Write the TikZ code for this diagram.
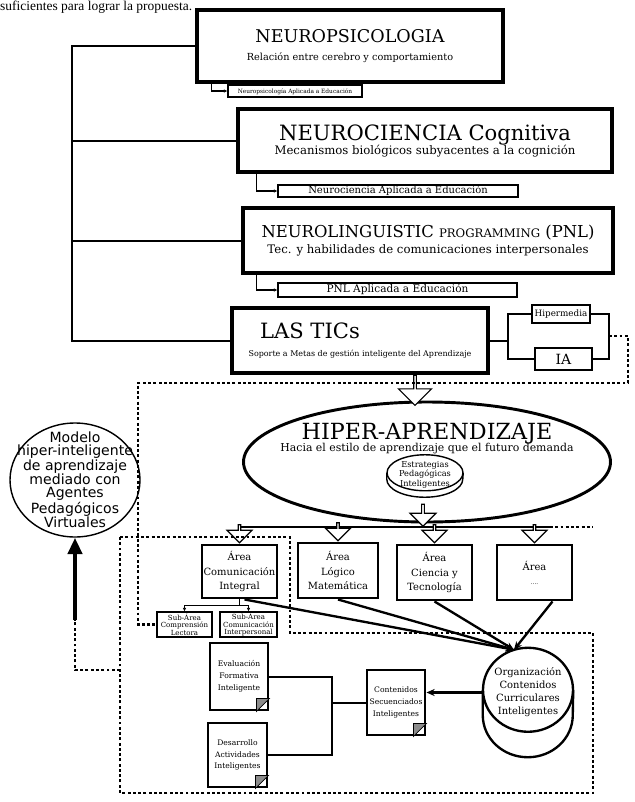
\documentclass[tikz,border=0pt]{standalone}
\usepackage{fontspec}
\setmainfont{DejaVu Serif}
\newfontfamily\bodyfont{Liberation Serif}
\newfontfamily\modelfont{DejaVu Sans}
\usetikzlibrary{arrows.meta, positioning, shapes.geometric, shapes.arrows, calc}

\newcommand{\pxu}{0.03cm}
\newcommand{\fsz}[2]{\fontsize{#1}{#2}\selectfont}

\begin{document}
\begin{tikzpicture}[
        x=0.03cm, y=-0.03cm,
        bigbox/.style={draw, line width=3pt, align=center, inner sep=1pt},
        subbox/.style={draw, line width=1pt, inner sep=0.5pt, text height=6.5pt, text depth=1.5pt},
        areabox/.style={draw, line width=2.5pt, align=center, inner sep=1pt, font=\fsz{8.5}{12}},
        smallbox/.style={draw, line width=1pt, align=center, inner sep=0.5pt, font=\fsz{6}{6.5}},
        docbox/.style={draw, line width=2.5pt, align=center, inner sep=1pt, font=\fsz{6.5}{10}},
        link/.style={line width=1.7pt},
        sublink/.style={line width=1.2pt, -{Latex[length=3pt,width=3pt]}},
        thinlink/.style={line width=0.8pt},
        feed/.style={line width=2pt, -{Stealth[length=7pt,width=6pt]}},
        dotline/.style={line width=2pt, dash pattern=on 2.5pt off 2pt},
        hollow/.style={single arrow, draw, fill=white, line width=1pt, rotate=-90, inner sep=0pt},
        fold/.style={fill=black!45, draw, line width=0.6pt}
    ]
    \useasboundingbox (0,0) rectangle (634,802);

    \node[anchor=base west, inner sep=0pt, font=\bodyfont\fsz{11.5}{13}] (intro) at (0,10) {suficientes para lograr la propuesta.};

    % bases teoricas
    \node[bigbox, minimum width=306*\pxu, minimum height=72*\pxu] (neuropsi) at (350,46)
        {{\fsz{15}{17}NEUROPSICOLOGIA}\\[4pt]{\fsz{8.3}{10}Relación entre cerebro y comportamiento}};
    \node[bigbox, minimum width=374*\pxu, minimum height=63*\pxu] (neurocog) at (425,140.5)
        {{\fsz{18}{20}NEUROCIENCIA Cognitiva}\\{\fsz{10}{12}Mecanismos biológicos subyacentes a la cognición}};
    \node[bigbox, minimum width=370*\pxu, minimum height=65*\pxu] (pnl) at (428,240.5)
        {{\fsz{14}{16}NEUROLINGUISTIC {\fsz{10}{12}PROGRAMMING} (PNL)}\\[2pt]{\fsz{10}{12}Tec. y habilidades de comunicaciones interpersonales}};
    \node[bigbox, minimum width=256*\pxu, minimum height=65*\pxu] (tics) at (360,340.5)
        {{\fsz{18}{20}LAS TICs\hspace*{3cm}}\\[4pt]{\fsz{6.8}{8}Soporte a Metas de gestión inteligente del Aprendizaje}};

    \node[subbox, minimum width=134*\pxu, minimum height=12*\pxu, font=\fsz{5}{6}] (sb1) at (295,91) {Neuropsicología Aplicada a Educación};
    \node[subbox, minimum width=240*\pxu, minimum height=12*\pxu, font=\fsz{8.5}{9}] (sb2) at (398,191) {Neurociencia Aplicada a Educación};
    \node[subbox, minimum width=239*\pxu, minimum height=14*\pxu, font=\fsz{9}{10}] (sb3) at (397.5,290) {PNL Aplicada a Educación};

    \node[draw, line width=2.5pt, minimum width=58*\pxu, minimum height=18*\pxu, inner sep=0pt, font=\fsz{7.5}{8}] (hipermedia) at (561,314) {Hipermedia};
    \node[draw, line width=2.5pt, minimum width=57*\pxu, minimum height=22*\pxu, inner sep=0pt, font=\fsz{12}{13}] (ia) at (563.5,359) {IA};

    % bus de la izquierda
    \coordinate (busTop) at (72,46);
    \coordinate (busBot) at (72,340.5);
    \draw[link] (neuropsi.west) -- (busTop) -- (busBot) -- (tics.west);
    \draw[link] (neurocog.west) -- (neurocog.west -| busTop);
    \draw[link] (pnl.west) -- (pnl.west -| busTop);

    \draw[sublink] ($(neuropsi.south west)+(16,0)$) |- (sb1.west);
    \draw[sublink] ($(neurocog.south west)+(20,0)$) |- (sb2.west);
    \draw[sublink] ($(pnl.south west)+(15,0)$) |- (sb3.west);

    \coordinate (forkL) at (508,340.5);
    \coordinate (forkR) at (609,336);
    \draw[link] (tics.east) -- (forkL);
    \draw[link] (hipermedia.west) -| (forkL) |- (ia.west);
    \draw[link] (hipermedia.east) -| (forkR) |- (ia.east);

    % hiper-aprendizaje
    \node[ellipse, draw, line width=2.5pt, minimum width=367*\pxu, minimum height=120*\pxu] (hiper) at (427,462) {};
    \node[anchor=base, inner sep=0pt, font=\fsz{19}{20}] (hipertitle) at (427,439) {HIPER-APRENDIZAJE};
    \node[anchor=base, inner sep=0pt, font=\fsz{9.3}{10}] (hipersub) at (427,451) {Hacia el estilo de aprendizaje que el futuro demanda};
    \node[minimum width=76*\pxu, minimum height=42*\pxu, inner sep=0pt,
        label={[font=\fsz{7}{8}, align=center, yshift=1pt]center:Estrategias\\Pedagógicas\\Inteligentes}] (estrat) at (425,476) {};
    \draw[line width=1.2pt] ($(estrat.north)+(0,18)$) ellipse [x radius=38, y radius=18];
    \draw[line width=1.2pt] ($(estrat.north west)+(0,18)$) -- ($(estrat.south west)+(0,-18)$)
        arc[start angle=180, end angle=0, x radius=38, y radius=18] -- ($(estrat.north east)+(0,18)$);

    \node[hollow, anchor=tail, minimum height=30*\pxu, minimum width=33*\pxu, single arrow head extend=0.2cm] (harrtop) at ($(tics.south)+(55,0)$) {};

    % areas
    \node[areabox, minimum width=75*\pxu, minimum height=53*\pxu] (acom) at (239.5,571.5) {Área\\Comunicación\\Integral};
    \node[areabox, minimum width=80*\pxu, minimum height=55*\pxu] (alog) at (338,570.5) {Área\\Lógico\\Matemática};
    \node[areabox, minimum width=75*\pxu, minimum height=55*\pxu] (acie) at (434.5,572.5) {Área\\Ciencia y\\Tecnología};
    \node[areabox, minimum width=75*\pxu, minimum height=55*\pxu] (aotra) at (534.5,572.5) {Área\\{\fsz{5}{6}....}};

    \coordinate (barL) at (239.5,527);
    \coordinate (barC) at (423,527);
    \coordinate (barR) at (550,527);
    \draw[line width=2.5pt] (barL) -- (barR);
    \node[hollow, anchor=tip, minimum height=22*\pxu, minimum width=26*\pxu, single arrow head extend=0.15cm] (harrmid) at (barC) {};
    \foreach \a in {acom, alog, acie, aotra}
        \node[hollow, anchor=tip, minimum height=18*\pxu, minimum width=25*\pxu, single arrow head extend=0.15cm] at (\a.north) {};

    \node[smallbox, minimum width=55*\pxu, minimum height=25*\pxu] (scomp) at (184.5,624.5) {Sub-Área\\Comprensión\\Lectora};
    \node[smallbox, minimum width=57*\pxu, minimum height=25*\pxu] (sinter) at (248.5,624.5) {Sub-Área\\Comunicación\\Interpersonal};
    \draw[thinlink] (acom.south) -- ++(0,6) coordinate (sabar);
    \draw[thinlink, -{Latex[length=3pt,width=3pt]}] (sabar) -| (scomp.north);
    \draw[thinlink, -{Latex[length=3pt,width=3pt]}] (sabar) -| (sinter.north);

    % contenidos
    \node[minimum width=90*\pxu, minimum height=109*\pxu, inner sep=0pt,
        label={[font=\fsz{8.5}{11}, align=center, yshift=9pt]center:Organización\\Contenidos\\Curriculares\\Inteligentes}] (org) at (528,702.5) {};
    \draw[line width=2pt] ($(org.north)+(0,42)$) ellipse [x radius=45, y radius=42];
    \draw[line width=2pt] ($(org.north west)+(0,42)$) -- ($(org.south west)+(0,-42)$)
        arc[start angle=180, end angle=0, x radius=45, y radius=42] -- ($(org.north east)+(0,42)$);
    \coordinate (orgtop) at ($(org.north)+(-14,2)$);
    \draw[feed] ($(acom.south)+(5,0)$) -- (orgtop);
    \draw[feed] (alog.south) -- (orgtop);
    \draw[feed] (acie.south) -- (orgtop);
    \draw[feed] ($(aotra.south)+(18,0)$) -- (orgtop);

    \node[docbox, minimum width=58*\pxu, minimum height=65*\pxu] (secuen) at (396,702.5) {Contenidos\\Secuenciados\\Inteligentes};
    \node[docbox, minimum width=58*\pxu, minimum height=67*\pxu] (evalua) at (239,676.5) {Evaluación\\Formativa\\Inteligente};
    \node[docbox, minimum width=59*\pxu, minimum height=64*\pxu] (desarr) at (237.5,755) {Desarrollo\\Actividades\\Inteligentes};
    \foreach \d in {evalua, desarr, secuen}
        \filldraw[fold] ($(\d.south east)+(-13,0)$) -- ($(\d.south east)+(0,-13)$) -- ($(\d.south east)+(-13,-13)$) -- cycle;

    \draw[feed] ($(org.west)+(0,-10)$) -- ($(secuen.east)+(0,-10)$);
    \coordinate (junta) at ($(secuen.west)+(-34,0)$);
    \draw[link] (evalua.east) -| (junta) |- (desarr.east);
    \draw[link] (junta) -- (secuen.west);

    % modelo
    \node[ellipse, draw, line width=1.2pt, minimum width=130*\pxu, minimum height=114*\pxu,
        label={[font=\modelfont\fsz{12}{11}, align=center]center:Modelo\\hiper-inteligente\\de aprendizaje\\mediado con\\Agentes\\Pedagógicos\\Virtuales}] (modelo) at (75,480) {};

    % lineas punteadas
    \draw[dotline] (120,537) -- (290,537) -- (290,633) -- (593,633) -- (593,793) -- (120,793) -- cycle;
    \draw[dotline] (barR) -- (593,527);
    \draw[dotline] (forkR) -- (628,336) |- (138,383) |- (scomp.west);
    \coordinate (ret) at (120,670);
    \coordinate (retup) at (75,620);
    \draw[dotline] (ret) -| (retup);
    \draw[line width=4pt, -{Triangle[length=14pt,width=12pt]}] (retup) -- (modelo.south);
\end{tikzpicture}
\end{document}
